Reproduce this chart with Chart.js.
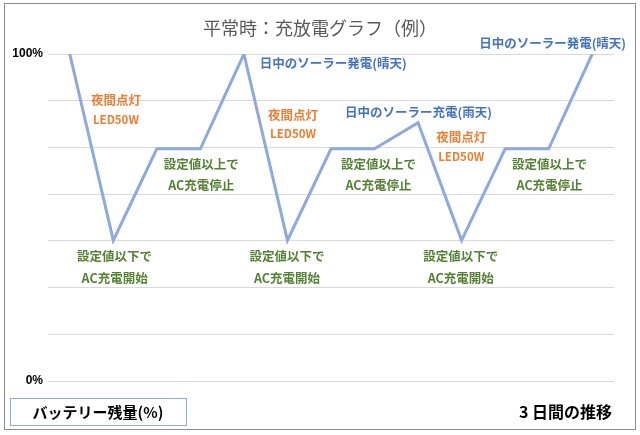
<!DOCTYPE html>
<html>
<head>
<meta charset="utf-8">
<script src="https://cdn.jsdelivr.net/npm/chart.js@4"></script>
<style>
body { margin: 0; background: #fff; }
#wrap { width: 640px; height: 435px; position: relative; }
</style>
</head>
<body>
<div id="wrap"><canvas id="myChart"></canvas></div>
<script>
// 3 days, 13 points (equal steps)
const steps = ["1", "2", "3", "4", "5", "6", "7", "8", "9", "10", "11", "12", "13"];
// battery level in %
const battery = [100, 43, 71, 71, 100, 43, 71, 71, 79, 43, 71, 71, 100];
// y grid: 7 equal parts, only 0% and 100% labelled
const gridParts = 7;

// notes on the chart: text, kind, x (step index), y (%)
const noteText = [
  "夜間点灯", "LED50W",
  "設定値以上で", "AC充電停止",
  "日中のソーラー発電(晴天)",
  "夜間点灯", "LED50W",
  "日中のソーラー充電(雨天)",
  "夜間点灯", "LED50W",
  "設定値以上で", "AC充電停止",
  "設定値以上で", "AC充電停止",
  "日中のソーラー発電(晴天)",
  "設定値以下で", "AC充電開始",
  "設定値以下で", "AC充電開始",
  "設定値以下で", "AC充電開始",
];
const noteKind = [
  "night", "night", "ac", "ac", "sun", "night", "night", "sun", "night", "night",
  "ac", "ac", "ac", "ac", "sun", "ac", "ac", "ac", "ac", "ac", "ac",
];
const noteX = [
  1.06, 1.06, 3.02, 3.02, 6.05, 5.13, 5.13, 8.01, 8.99, 8.99,
  7.09, 7.09, 11.02, 11.02, 11.09, 1.03, 1.03, 4.99, 4.99, 8.98, 8.98,
];
const noteY = [
  85.9, 79.8, 66.4, 59.9, 97.2, 81.3, 75.8, 82.3, 74.6, 68.5,
  66.4, 59.9, 66.4, 59.9, 103.4, 38.2, 31.3, 38.2, 31.3, 38.2, 31.3,
];

const kindColor = { night: "#ED7D31", ac: "#548235", sun: "#4472C4" };
const jp = "'Noto Sans CJK JP', 'Noto Sans', sans-serif";

const decor = {
  id: "decor",
  afterDatasetsDraw(chart) {
    const ctx = chart.ctx;
    const xs = chart.scales.x;
    const ys = chart.scales.y;
    ctx.save();
    ctx.textAlign = "center";
    ctx.textBaseline = "middle";
    noteText.forEach(function (t, i) {
      const isLatin = /^[A-Z0-9]+$/.test(t);
      ctx.font = (isLatin ? "bold 11.5px " : "bold 12.5px ") + jp;
      ctx.fillStyle = kindColor[noteKind[i]];
      ctx.fillText(t, xs.getPixelForValue(noteX[i]), ys.getPixelForValue(noteY[i]));
    });

    // title
    ctx.font = "18px " + jp;
    ctx.fillStyle = "#595959";
    ctx.fillText("平常時：充放電グラフ（例）", 320, 28);

    // y label box
    ctx.strokeStyle = "#8FAADC";
    ctx.lineWidth = 1;
    ctx.strokeRect(10.5, 398.5, 176, 27);
    ctx.font = "bold 15px " + jp;
    ctx.fillStyle = "#000";
    ctx.fillText("バッテリー残量(%)", 98, 412);

    // x label
    ctx.textAlign = "right";
    ctx.font = "bold 16px " + jp;
    ctx.fillText("3 日間の推移", 612, 412);

    // outer frame
    ctx.strokeStyle = "#8C8C8C";
    ctx.strokeRect(4.5, 3.5, 631, 426);
    ctx.restore();
  },
};

const ctx = document.getElementById("myChart").getContext("2d");
const myChart = new Chart(ctx, {
  type: "line",
  data: {
    labels: steps,
    datasets: [
      {
        data: battery,
        borderColor: "#8EA9DB",
        borderWidth: 3,
        pointRadius: 0,
        tension: 0,
        fill: false,
      },
    ],
  },
  options: {
    responsive: true,
    maintainAspectRatio: false,
    animation: false,
    layout: { padding: { top: 54, right: 26, bottom: 54, left: 0 } },
    plugins: {
      legend: { display: false },
      tooltip: { enabled: false },
    },
    scales: {
      x: {
        display: false,
        offset: true,
      },
      y: {
        min: 0,
        max: 100,
        afterBuildTicks: function (axis) {
          const t = [];
          for (let i = 0; i <= gridParts; i++) t.push({ value: (i * 100) / gridParts });
          axis.ticks = t;
        },
        afterFit: function (axis) {
          axis.width = 48;
        },
        border: { display: false },
        grid: { color: "#D9D9D9", lineWidth: 1, drawTicks: false },
        ticks: {
          padding: 5,
          color: "#000",
          font: { family: "'Liberation Sans', sans-serif", size: 12, weight: "bold" },
          callback: function (value) {
            if (Math.abs(value - 100) < 0.01) return "100%";
            if (Math.abs(value) < 0.01) return "0%";
            return "";
          },
        },
      },
    },
  },
  plugins: [decor],
});
</script>
</body>
</html>
